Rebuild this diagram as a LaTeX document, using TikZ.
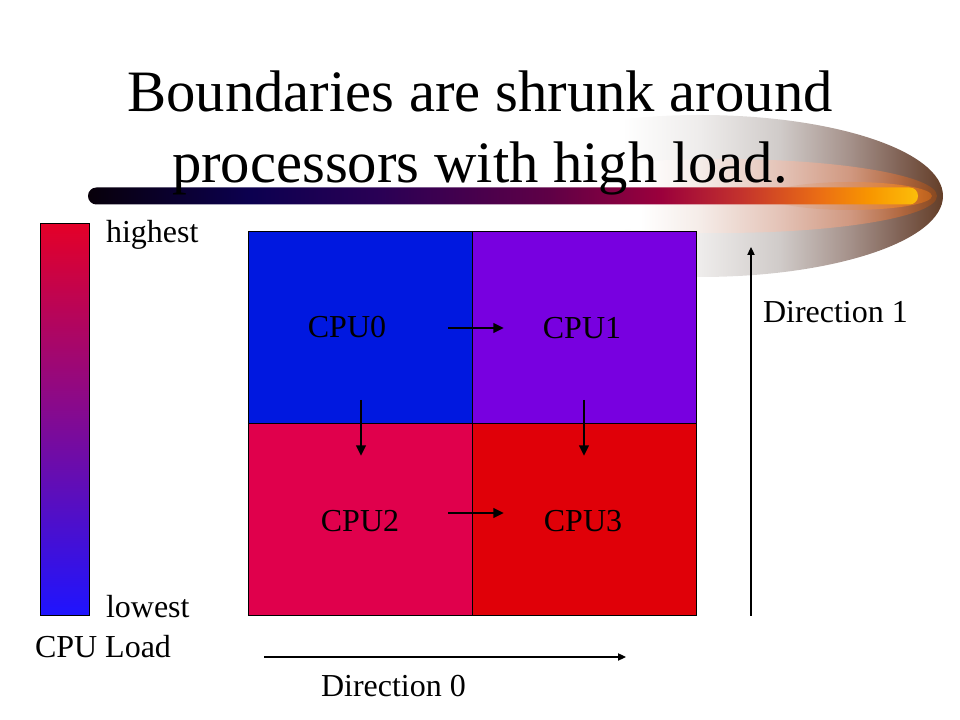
\documentclass[tikz,border=0pt]{standalone}
\usepackage{fontspec}
\setmainfont{Liberation Serif}
\usetikzlibrary{arrows.meta}
\definecolor{cpuA}{RGB}{0,24,224}
\definecolor{cpuB}{RGB}{120,0,224}
\definecolor{cpuC}{RGB}{224,0,76}
\definecolor{cpuD}{RGB}{224,0,8}
\definecolor{legtop}{RGB}{228,0,40}
\definecolor{legmid}{RGB}{168,0,172}
\definecolor{legbot}{RGB}{30,20,255}
\definecolor{bblack}{RGB}{8,0,10}
\definecolor{bnavy}{RGB}{12,0,80}
\definecolor{bindigo}{RGB}{42,0,85}
\definecolor{bmaroon}{RGB}{95,0,70}
\definecolor{bcrimson}{RGB}{155,0,60}
\definecolor{bred}{RGB}{195,50,45}
\definecolor{borange}{RGB}{235,110,20}
\definecolor{bamber}{RGB}{248,150,0}
\definecolor{bgold}{RGB}{252,190,10}
\definecolor{sw0}{RGB}{238,236,235}
\definecolor{sw1}{RGB}{208,203,201}
\definecolor{sw2}{RGB}{165,145,138}
\definecolor{sw3}{RGB}{128,98,85}
\definecolor{sw4}{RGB}{100,62,40}
\definecolor{si0}{RGB}{245,236,232}
\definecolor{si1}{RGB}{228,195,183}
\definecolor{si2}{RGB}{208,152,128}
\definecolor{si3}{RGB}{178,105,65}
\definecolor{si4}{RGB}{135,72,32}
\definecolor{sg0}{RGB}{225,192,180}
\definecolor{sg1}{RGB}{215,145,105}
\definecolor{sg2}{RGB}{222,125,45}
\definecolor{sg3}{RGB}{185,95,30}
\pgfdeclarehorizontalshading{barshade}{100bp}{color(0bp)=(bblack); color(25bp)=(bblack); color(34.8bp)=(bnavy); color(42.6bp)=(bindigo); color(52.8bp)=(bmaroon); color(59.5bp)=(bcrimson); color(64.3bp)=(bred); color(69.1bp)=(borange); color(72.1bp)=(bamber); color(75bp)=(bgold); color(100bp)=(bgold)}
\pgfdeclarehorizontalshading{outshade}{100bp}{color(0bp)=(white); color(42bp)=(white); color(50bp)=(sw0); color(58.2bp)=(sw1); color(65.4bp)=(sw2); color(70.6bp)=(sw3); color(75bp)=(sw4); color(100bp)=(sw4)}
\pgfdeclarehorizontalshading{inshade}{100bp}{color(0bp)=(white); color(40.8bp)=(white); color(47.7bp)=(si0); color(56.9bp)=(si1); color(65bp)=(si2); color(70.7bp)=(si3); color(75bp)=(si4); color(100bp)=(si4)}
\pgfdeclarehorizontalshading{glowshade}{100bp}{color(0bp)=(sg0); color(25bp)=(sg0); color(50bp)=(sg1); color(65.2bp)=(sg2); color(75bp)=(sg3); color(100bp)=(sg3)}
\tikzset{
  txt/.style={font=\fontsize{24}{29}\selectfont, inner sep=0pt, outer sep=0pt},
  ttl/.style={font=\fontsize{44}{53}\selectfont, inner sep=0pt},
  cell/.style={draw=black, line width=0.75pt, inner sep=0pt, outer sep=0pt, minimum width=168pt, minimum height=144pt, anchor=north west},
  flow/.style={line width=2pt, -{Triangle[length=8pt,width=7pt]}},
  axisarrow/.style={line width=0.8pt, -{Triangle[length=6pt,width=5.5pt]}}
}
\begin{document}
\begin{tikzpicture}[x=0.75pt,y=0.75pt]
\useasboundingbox (0,0) rectangle (960,720);
% decorative swoosh
\shade[shading=outshade] (700,524) ellipse [x radius=243, y radius=81];
\shade[shading=inshade] (720,524) ellipse [x radius=217, y radius=37];
\shade[shading=glowshade] (850,524) ellipse [x radius=82, y radius=14];
\shade[shading=barshade, rounded corners=6.3pt] (88,515.5) rectangle (918,532.5);
% title
\node[ttl, anchor=base] (title1) at (480,608) {Boundaries are shrunk around};
\node[ttl, anchor=base] (title2) at (480,537) {processors with high load.};
% legend bar
\shade[top color=legtop, middle color=legmid, bottom color=legbot] (40,104) rectangle (89,496);
\draw[line width=0.75pt] (40,104) rectangle (89,496);
\node[txt, anchor=base west] (hi) at (106,477) {highest};
\node[txt, anchor=base west] (lo) at (106,102) {lowest};
\node[txt, anchor=base west] (load) at (35,62) {CPU Load};
% grid cells
\node[cell, fill=cpuA] (cell0) at (248,488) {};
\node[cell, fill=cpuB] (cell1) at (472,488) {};
\node[cell, fill=cpuC] (cell2) at (248,296) {};
\node[cell, fill=cpuD] (cell3) at (472,296) {};
% cpu labels
\node[txt, anchor=base] (cpu0) at (347,382) {CPU0};
\node[txt, anchor=base] (cpu1) at (582,381) {CPU1};
\node[txt, anchor=base] (cpu2) at (360,188) {CPU2};
\node[txt, anchor=base] (cpu3) at (583,188) {CPU3};
% flow arrows
\coordinate (f01s) at (448,392);
\coordinate (f01e) at (504,392);
\coordinate (f02s) at (361,320);
\coordinate (f02e) at (361,264);
\coordinate (f13s) at (584,320);
\coordinate (f13e) at (584,264);
\coordinate (f23s) at (448,207);
\coordinate (f23e) at (504,207);
\draw[flow] (f01s) -- (f01e);
\draw[flow] (f02s) -- (f02e);
\draw[flow] (f13s) -- (f13e);
\draw[flow] (f23s) -- (f23e);
% direction axes
\coordinate (d1s) at (751,104);
\coordinate (d1e) at (751,473);
\coordinate (d0s) at (264,63);
\coordinate (d0e) at (626,63);
\draw[axisarrow] (d1s) -- (d1e);
\draw[axisarrow] (d0s) -- (d0e);
\node[txt, anchor=base west] (dir1) at (763,397) {Direction 1};
\node[txt, anchor=base west] (dir0) at (321,23) {Direction 0};
\end{tikzpicture}
\end{document}
